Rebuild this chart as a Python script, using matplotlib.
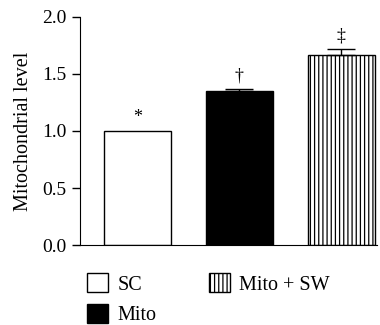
import matplotlib.pyplot as plt
from matplotlib.patches import Patch

plt.rcParams['font.family'] = ['Liberation Serif', 'DejaVu Serif']
plt.rcParams['hatch.linewidth'] = 0.9

groups = ['SC', 'Mito', 'Mito + SW']
values = [1.0, 1.35, 1.67]
errors = [0.0, 0.02, 0.05]
marks = ['*', '\u2020', '\u2021']
colors = ['white', 'black', 'white']
hatches = ['', '', '||||']

fig = plt.figure(figsize=(3.8, 3.25), dpi=100)
ax = fig.add_axes([0.2105, 0.246, 0.782, 0.702])

x = range(len(groups))
for i in x:
    ax.bar(i, values[i], width=0.66, color=colors[i], edgecolor='black',
           linewidth=1.0, hatch=hatches[i], zorder=2)
    if errors[i] > 0:
        ax.errorbar(i, values[i], yerr=[[0], [errors[i]]], fmt='none',
                    ecolor='black', elinewidth=1.0, capsize=10, capthick=1.0, zorder=3)
    ax.text(i, values[i] + errors[i] + 0.04, marks[i], ha='center', va='bottom',
            fontsize=13)

ax.set_xlim(-0.564, 2.353)
ax.set_ylim(0, 2.0)
ax.set_yticks([0, 0.5, 1.0, 1.5, 2.0])
ax.set_yticklabels(['0.0', '0.5', '1.0', '1.5', '2.0'])
ax.set_xticks([])
ax.spines['top'].set_visible(False)
ax.spines['right'].set_visible(False)
ax.tick_params(axis='y', direction='out', length=6, width=1, labelsize=14, pad=4)
ax.set_ylabel('Mitochondrial level', fontsize=14.5, labelpad=6)

handles = [Patch(facecolor=colors[i], edgecolor='black', hatch=hatches[i],
                 label=groups[i]) for i in x]
fig.legend(handles=handles, loc='upper left', bbox_to_anchor=(0.229, 0.16),
           ncol=2, frameon=False, fontsize=14.5, handlelength=1.05,
           handleheight=1.1, handletextpad=0.45, columnspacing=2.6,
           labelspacing=0.45, borderaxespad=0, borderpad=0)

fig.savefig('out.png', dpi=100)
